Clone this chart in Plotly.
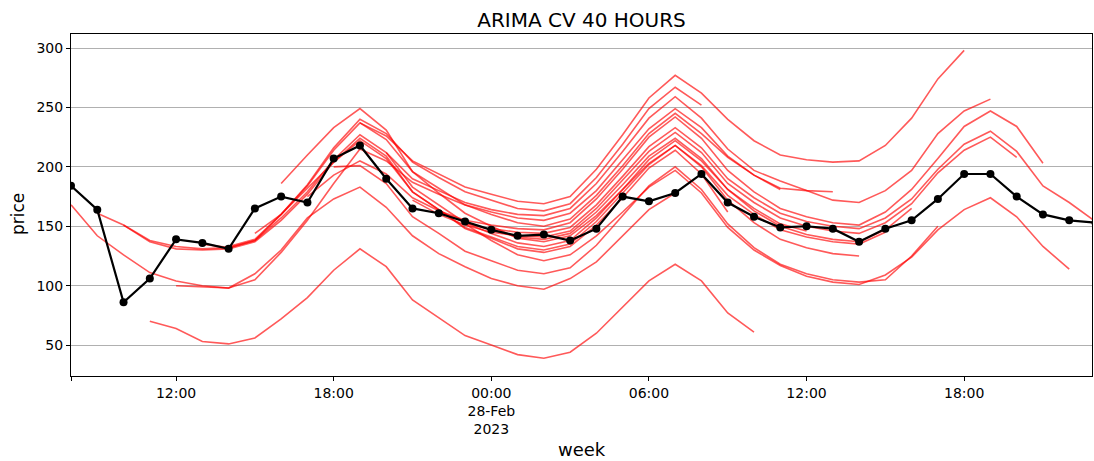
import plotly.graph_objects as go
import pandas as pd

# ---- data ----
hours = pd.date_range("2023-02-27 08:00", periods=40, freq="h")

actual = [184, 164, 86, 106, 139, 136, 131, 165, 175, 170,
          207, 218, 190, 165, 161, 154, 147, 142, 143, 138,
          148, 175, 171, 178, 194, 170, 158, 149, 150, 148,
          137, 148, 155, 173, 194, 194, 175, 160, 155, 153]

# start index (hour offset from 27-Feb 08:00) of each 24h forecast window
forecast_starts = list(range(17))

fc_s00 = [168, 142, 126, 111, 104, 100, 98, 110, 130, 157, 173, 183, 166, 142, 127, 116, 106, 100, 97, 106, 120, 142, 164, 178]
fc_s01 = [161, 151, 138, 133, 131, 132, 138, 160, 185, 216, 240, 228, 204, 191, 179, 172, 165, 163, 169, 191, 219, 249, 267, 252]
fc_s02 = [151, 137, 131, 130, 131, 137, 155, 177, 204, 224, 209, 179, 164, 148, 140, 131, 128, 133, 151, 174, 199, 214, 194, 162]
fc_s03 = [70, 64, 53, 51, 56, 72, 90, 113, 131, 116, 88, 73, 58, 50, 42, 39, 44, 60, 82, 104, 118, 104, 77, 61]
fc_s04 = [100, 99, 98, 105, 128, 155, 186, 215, 205, 187, 177, 168, 162, 157, 155, 161, 180, 206, 232, 249, 233, 209, 193, 181]
fc_s05 = [135, 132, 138, 157, 179, 206, 227, 212, 183, 168, 153, 144, 136, 133, 138, 157, 181, 206, 222, 205, 181, 165, 152, 146]
fc_s06 = [133, 139, 160, 184, 214, 237, 223, 196, 182, 168, 160, 153, 150, 156, 176, 201, 228, 245, 228, 208, 193, 182, 180, 179]
fc_s07 = [144, 160, 182, 204, 222, 207, 179, 164, 149, 141, 133, 130, 135, 154, 178, 202, 218, 200, 172, 153, 139, 132, 127, 125]
fc_s08 = [186, 210, 233, 249, 231, 196, 178, 161, 150, 140, 137, 142, 159, 181, 203, 218, 201, 176, 160, 147, 141, 137, 135, 145]
fc_s09 = [175, 193, 205, 194, 174, 163, 153, 147, 141, 139, 144, 162, 185, 209, 224, 207, 181, 163, 150, 143, 139, 137, 147, 165]
fc_s10 = [200, 201, 186, 158, 144, 129, 121, 113, 110, 115, 134, 159, 184, 200, 181, 152, 132, 118, 110, 105, 103, 105, 125, 150]
fc_s11 = [237, 226, 205, 194, 183, 177, 171, 169, 175, 198, 227, 258, 277, 262, 240, 222, 210, 206, 204, 205, 218, 241, 274, 298]
fc_s12 = [212, 190, 180, 170, 164, 160, 159, 165, 186, 213, 241, 259, 241, 215, 197, 188, 180, 172, 170, 180, 197, 228, 247, 257]
fc_s13 = [172, 160, 151, 145, 142, 141, 146, 165, 189, 213, 229, 212, 186, 170, 157, 150, 146, 144, 153, 169, 195, 214, 225, 208]
fc_s14 = [163, 155, 151, 148, 147, 153, 173, 198, 225, 242, 224, 197, 179, 165, 158, 153, 151, 162, 181, 207, 234, 247, 234, 203]
fc_s15 = [152, 138, 126, 121, 126, 142, 162, 183, 197, 178, 149, 130, 117, 108, 103, 101, 109, 124, 147, 164, 174, 158, 133, 114]
fc_s16 = [148, 145, 144, 149, 168, 192, 217, 233, 216, 190, 174, 161, 154, 150, 148, 157, 173, 198, 219, 230, 213, 184, 170, 154]

forecasts = [fc_s00, fc_s01, fc_s02, fc_s03, fc_s04, fc_s05, fc_s06, fc_s07, fc_s08,
             fc_s09, fc_s10, fc_s11, fc_s12, fc_s13, fc_s14, fc_s15, fc_s16]

tick_vals = ["2023-02-27 08:00", "2023-02-27 12:00", "2023-02-27 18:00", "2023-02-28 00:00",
             "2023-02-28 06:00", "2023-02-28 12:00", "2023-02-28 18:00"]
tick_text = ["", "12:00", "18:00", "00:00<br>28-Feb<br>2023", "06:00", "12:00", "18:00"]
y_ticks = [50, 100, 150, 200, 250, 300]

# ---- figure ----
fig = go.Figure()
for s, vals in zip(forecast_starts, forecasts):
    fig.add_trace(go.Scatter(
        x=hours[s:s + len(vals)], y=vals, mode="lines",
        line=dict(color="rgba(255,0,0,0.65)", width=1.6),
        hoverinfo="skip", showlegend=False))

fig.add_trace(go.Scatter(
    x=hours, y=actual, mode="lines+markers",
    line=dict(color="black", width=2.2),
    marker=dict(color="black", size=8),
    showlegend=False))

font_family = "DejaVu Sans"
fig.update_layout(
    width=1094, height=461,
    margin=dict(l=71, r=2, t=34, b=85),
    paper_bgcolor="white", plot_bgcolor="white",
    font=dict(family=font_family, color="black", size=14),
    title=dict(text="ARIMA CV 40 HOURS", x=(581.5 / 1094), xanchor="center",
               y=1 - 20 / 461, yanchor="middle", yref="container",
               font=dict(size=20, family=font_family, color="black")),
    showlegend=False,
)
fig.update_xaxes(
    type="date",
    range=["2023-02-27 08:00", "2023-02-28 22:52"],
    tickvals=tick_vals, ticktext=tick_text,
    ticks="outside", ticklen=4, tickcolor="black", tickwidth=1,
    showline=True, linecolor="black", linewidth=1, mirror=True,
    showgrid=False, zeroline=False,
    tickfont=dict(size=14, family=font_family, color="black"),
)
fig.update_yaxes(
    range=[24, 311.8],
    tickvals=y_ticks,
    ticks="outside", ticklen=4, tickcolor="black", tickwidth=1,
    showline=True, linecolor="black", linewidth=1, mirror=True,
    showgrid=True, gridcolor="#b0b0b0", gridwidth=1, zeroline=False,
    tickfont=dict(size=14, family=font_family, color="black"),
)
fig.add_annotation(text="week", xref="paper", yref="paper",
                   x=0.5, y=(376 - 449) / 342, xanchor="center", yanchor="middle",
                   showarrow=False, font=dict(size=18, family=font_family, color="black"))
fig.add_annotation(text="price", xref="paper", yref="paper",
                   x=(18 - 71) / 1021, y=(376 - 214) / 342, xanchor="center", yanchor="middle",
                   textangle=-90, showarrow=False,
                   font=dict(size=17, family=font_family, color="black"))

fig.write_html("out.html")
